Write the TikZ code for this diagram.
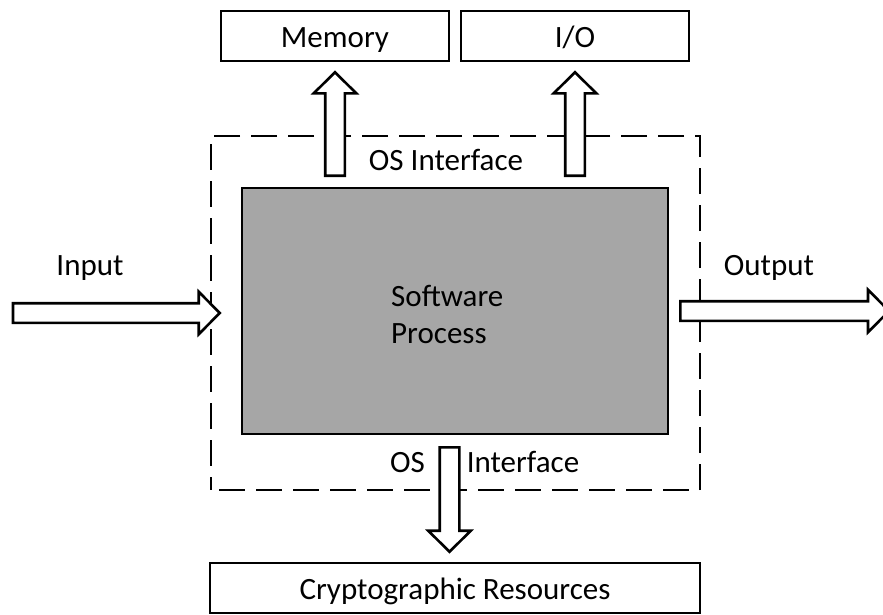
\documentclass[tikz,border=0pt]{standalone}
\usepackage{fontspec}
\setmainfont{Carlito}
\usetikzlibrary{calc}

\definecolor{procgray}{HTML}{A6A6A6}

% block-arrow dimensions (half shaft width, half head width, head length)
\newcommand\bashaft{9.8pt}
\newcommand\bahead{21.3pt}
\newcommand\balen{21pt}

% horizontal block arrow from #1 to #2
\newcommand\hblockarrow[2]{%
  \draw[blockarrow] let \p1=#1, \p2=#2, \n1={sign(\x2-\x1)}, \n2={\x2-\n1*\balen} in
    (\x1,{\y2+\bashaft}) -- (\n2,{\y2+\bashaft}) -- (\n2,{\y2+\bahead})
    -- (\x2,\y2) -- (\n2,{\y2-\bahead}) -- (\n2,{\y2-\bashaft})
    -- (\x1,{\y2-\bashaft}) -- cycle;}

% vertical block arrow from #1 to #2
\newcommand\vblockarrow[2]{%
  \draw[blockarrow] let \p1=#1, \p2=#2, \n1={sign(\y2-\y1)}, \n2={\y2-\n1*\balen} in
    ({\x2+\bashaft},\y1) -- ({\x2+\bashaft},\n2) -- ({\x2+\bahead},\n2)
    -- (\x2,\y2) -- ({\x2-\bahead},\n2) -- ({\x2-\bashaft},\n2)
    -- ({\x2-\bashaft},\y1) -- cycle;}

\tikzset{
  every node/.style={font=\fontsize{31}{37}\selectfont},
  resbox/.style={draw, line width=2.6pt, inner sep=0pt, text height=24pt, text depth=2pt},
  procbox/.style={draw, line width=2.6pt, fill=procgray, inner sep=0pt},
  ifbox/.style={draw, line width=2.6pt, dash pattern=on 26pt off 11pt, dash phase=-8pt, inner sep=0pt},
  lbl/.style={inner sep=0pt, anchor=base},
  blockarrow/.style={draw, fill=white, line width=2.6pt, line join=miter},
}

\begin{document}
\begin{tikzpicture}[x=1pt,y=-1pt]
\useasboundingbox (0,0) rectangle (883,614);

% resources outside the process
\node[resbox, minimum width=228pt, minimum height=50pt] (mem) at (335,36) {Memory};
\node[resbox, minimum width=228pt, minimum height=50pt] (io) at (575,36) {I/O};
\node[resbox, minimum width=490pt, minimum height=50pt] (crypto) at (455,588) {Cryptographic Resources};

% OS interface boundary and the process itself
\node[ifbox, minimum width=489pt, minimum height=354pt] (osif) at (455.5,313) {};
\node[procbox, minimum width=426pt, minimum height=246pt] (proc) at (455,311) {};
\node[inner sep=0pt, anchor=base west, align=left] (proctext) at (391,343) {Software\\Process};

% labels
\node[lbl] (iftop) at (446,170) {OS Interface};
\node[lbl] (ifos) at (407.5,472) {OS};
\node[lbl] (ifname) at (523,472) {Interface};
\node[lbl] (inlbl) at (90,275) {Input};
\node[lbl] (outlbl) at (769,275) {Output};

% free ends of the data-flow arrows
\coordinate (insrc) at (13,313);
\coordinate (outdst) at (889,311);

% data flow
\hblockarrow{(insrc)}{($(osif.west)+(10,0)$)}
\hblockarrow{($(proc.east)+(11,0)$)}{(outdst)}
\vblockarrow{($(mem.south |- proc.north)+(0,-11)$)}{($(mem.south)+(0,10)$)}
\vblockarrow{($(io.south |- proc.north)+(0,-11)$)}{($(io.south)+(0,10)$)}
\vblockarrow{($(proc.south)+(-5.5,12)$)}{($(crypto.north)+(-5.5,-10)$)}
\end{tikzpicture}
\end{document}
